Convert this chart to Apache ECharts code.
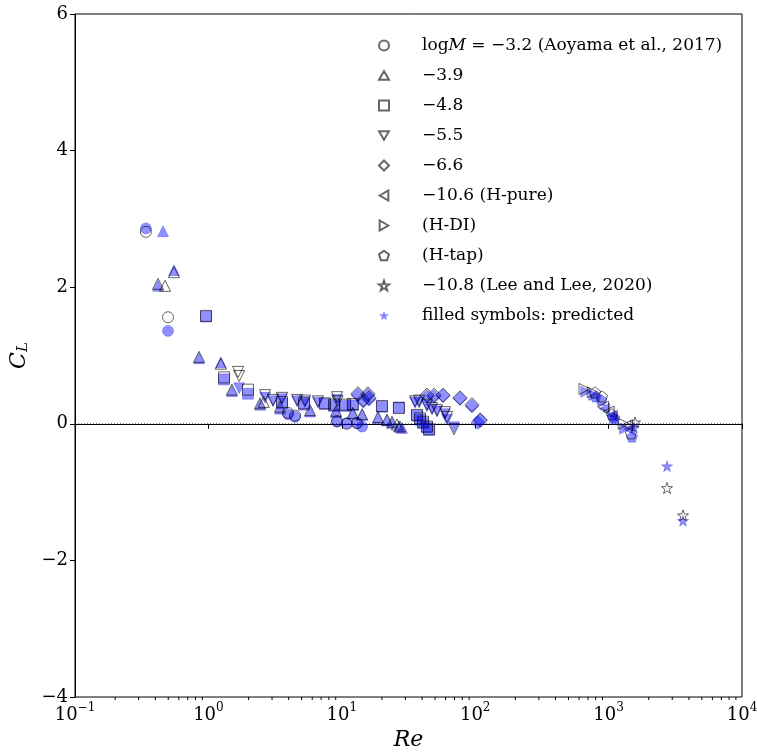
<!DOCTYPE html>
<html><head><meta charset="utf-8">
<script src="https://cdn.jsdelivr.net/npm/echarts@6/dist/echarts.min.js"></script>
<style>html,body{margin:0;padding:0;background:#fff}#c{width:757px;height:752px}</style>
</head><body><div id="c"></div>
<script>
// ---- tick values ----
const xMajorTicks = [0.1, 1, 10, 100, 1000, 10000];
const xMinorTicks = [0.2,0.3,0.4,0.5,0.6,0.7,0.8,0.9, 2,3,4,5,6,7,8,9, 20,30,40,50,60,70,80,90,
  200,300,400,500,600,700,800,900, 2000,3000,4000,5000,6000,7000,8000,9000];
const yTicks = [-4, -2, 0, 2, 4, 6];

// ---- legend labels ----
const seriesNames = ['m32','m39','m48','m55','m66','hpure','hdi','htap','lee','pred'];
const legendLabels = {
  m32: '{t|log}{i|M}{t| = −3.2 (Aoyama et al., 2017)}',
  m39: '{t|−3.9}',
  m48: '{t|−4.8}',
  m55: '{t|−5.5}',
  m66: '{t|−6.6}',
  hpure: '{t|−10.6 (H-pure)}',
  hdi: '{t|(H-DI)}',
  htap: '{t|(H-tap)}',
  lee: '{t|−10.8 (Lee and Lee, 2020)}',
  pred: '{t|filled symbols: predicted}'
};

// ---- data: [Re, C_L] ----
const m32Meas = [[0.340,2.81],[0.498,1.56],[3.95,0.16],[4.46,0.12],[9.21,0.04],[10.9,0.00],[13.0,0.01]];
const m32Pred = [[0.340,2.86],[0.498,1.36],[3.95,0.14],[4.46,0.10],[9.21,0.03],[10.9,0.01],[13.0,0.01],[14.2,-0.04]];

const m39Meas = [[0.419,2.05],[0.473,2.02],[0.552,2.22],[0.851,0.98],[1.24,0.88],[1.50,0.50],[2.44,0.30],[2.60,0.32],
  [3.44,0.25],[5.78,0.20],[9.06,0.19],[12.1,0.16],[14.2,0.14],[18.7,0.10],[21.8,0.06],[23.8,0.03],[25.9,-0.01],[27.3,-0.04]];
const m39Pred = [[0.457,2.82],[0.419,2.02],[0.552,2.25],[0.851,0.96],[1.24,0.90],[1.50,0.48],[2.44,0.28],[3.44,0.22],
  [5.78,0.18],[9.06,0.17],[12.1,0.15],[14.2,0.13],[18.7,0.08],[21.8,0.05],[23.8,0.01],[26.8,-0.04],[28.3,-0.06]];

const m48Meas = [[0.960,1.58],[1.31,0.68],[1.98,0.50],[3.56,0.32],[5.21,0.30],[7.49,0.30],[8.75,0.28],[10.6,0.28],
  [12.1,0.29],[20.0,0.26],[26.8,0.23],[36.6,0.13],[38.6,0.08],[40.6,0.03],[43.5,-0.04],[45.1,-0.08]];
const m48Pred = [[0.960,1.57],[1.31,0.65],[1.98,0.44],[3.56,0.30],[5.21,0.28],[7.49,0.29],[8.75,0.26],[10.6,0.26],
  [12.1,0.27],[20.0,0.25],[26.8,0.24],[36.6,0.12],[38.6,0.06],[40.6,0.01],[43.5,-0.05],[45.1,-0.09]];

const m55Meas = [[1.67,0.76],[1.70,0.70],[2.66,0.42],[3.05,0.35],[3.56,0.38],[4.62,0.35],[5.30,0.34],[6.63,0.33],
  [9.21,0.39],[9.30,0.33],[35.4,0.33],[38.0,0.34],[43.5,0.28],[47.5,0.23],[51.7,0.20],[59.4,0.17],[61.5,0.10],[69.4,-0.08]];
const m55Pred = [[1.70,0.52],[2.66,0.38],[3.05,0.33],[3.56,0.36],[4.62,0.33],[5.30,0.32],[6.63,0.31],[9.21,0.35],
  [35.4,0.31],[38.0,0.31],[43.5,0.26],[47.5,0.21],[51.7,0.18],[59.4,0.14],[61.5,0.06],[69.4,-0.05]];

const m66Meas = [[13.2,0.44],[15.7,0.44],[14.5,0.35],[16.0,0.38],[43.5,0.42],[49.1,0.42],[57.4,0.42],[76.9,0.38],[94.6,0.28],[109,0.05]];
const m66Pred = [[13.2,0.42],[15.7,0.42],[14.5,0.33],[16.0,0.36],[43.5,0.40],[49.1,0.40],[57.4,0.41],[76.9,0.37],[94.6,0.26],[109,0.06],[105,0.02]];

const hpureMeas = [[908,0.25],[1000,0.18],[1374,-0.02]];
const hpurePred = [[930,0.22],[1060,0.12],[1420,-0.08]];
const hdiMeas = [[660,0.51],[760,0.46],[1300,0.00]];
const hdiPred = [[680,0.47],[780,0.42],[1330,-0.07]];
const htapMeas = [[791,0.46],[893,0.40],[1060,0.14],[1470,-0.14]];
const htapPred = [[800,0.40],[880,0.35],[1078,0.10],[1110,0.08],[1497,-0.19]];
const leeMeas = [[1578,0.02],[2741,-0.94],[3612,-1.34]];
const leePred = [[1550,-0.05],[2741,-0.62],[3612,-1.42]];

// ---- symbols ----
const STAR = 'path://M0,-10L2.35,-3.24L9.51,-3.09L3.8,1.24L5.88,8.09L0,4L-5.88,8.09L-3.8,1.24L-9.51,-3.09L-2.35,-3.24Z';
const PENTA = 'path://M0,-10L9.51,-3.09L5.88,8.09L-5.88,8.09L-9.51,-3.09Z';
const TRI_UP = 'path://M0,-10L8.66,5L-8.66,5Z';
const TRI_DOWN = 'path://M0,10L8.66,-5L-8.66,-5Z';
const TRI_LEFT = 'path://M-10,0L5,-8.66L5,8.66Z';
const TRI_RIGHT = 'path://M10,0L-5,-8.66L-5,8.66Z';
const FONT = 'DejaVu Serif';

const measStyle = {color:'rgba(255,255,255,0)', borderColor:'rgba(0,0,0,0.75)', borderWidth:1};
const predStyle = {color:'rgba(0,0,255,0.55)', borderColor:'rgba(0,0,210,0.55)', borderWidth:0.6};

// name, symbol, size, legend icon, measured, predicted
const specs = [
  ['m32','circle',11,'circle',m32Meas,m32Pred],
  ['m39',TRI_UP,11,TRI_UP,m39Meas,m39Pred],
  ['m48','rect',11,'rect',m48Meas,m48Pred],
  ['m55',TRI_DOWN,11,TRI_DOWN,m55Meas,m55Pred],
  ['m66','diamond',14,'diamond',m66Meas,m66Pred],
  ['hpure',TRI_LEFT,11,TRI_LEFT,hpureMeas,hpurePred],
  ['hdi',TRI_RIGHT,11,TRI_RIGHT,hdiMeas,hdiPred],
  ['htap',PENTA,11,PENTA,htapMeas,htapPred],
  ['lee',STAR,11,STAR,leeMeas,leePred]
];

const series = [];
specs.forEach(s => {
  series.push({type:'scatter', name:s[0]+'_p', symbol:s[1], symbolSize:s[2],
    data:s[5], itemStyle:predStyle, z:2, silent:true});
});
specs.forEach(s => {
  series.push({type:'scatter', name:s[0], symbol:s[1], symbolSize:s[2],
    data:s[4], itemStyle:measStyle, z:3, silent:true});
});
series.push({type:'scatter', name:'pred', symbol:STAR, symbolSize:8, data:[],
  itemStyle:{color:'rgba(0,0,255,0.6)'}});
// zero reference line
series.push({type:'line', name:'zero', silent:true, symbol:'none', z:1,
  data:[[xMajorTicks[0],0],[xMajorTicks[xMajorTicks.length-1],0]],
  lineStyle:{type:[1,2], color:'#222', width:0.8}});
// minor x ticks drawn via axis scale
series.push({type:'custom', name:'minor', silent:true, clip:false, z:10,
  data: xMinorTicks.map(v => [v, yTicks[0]]),
  renderItem: (params, api) => {
    const p = api.coord([api.value(0), api.value(1)]);
    return {type:'line', shape:{x1:p[0], y1:p[1], x2:p[0], y2:p[1]+3}, style:{stroke:'#000', lineWidth:1}};
  }});

const legendData = seriesNames.map(n => {
  const sp = specs.find(s => s[0] === n);
  if (sp) return {name:n, icon:sp[3]};
  return {name:n, icon:STAR};
});

const chart = echarts.init(document.getElementById('c'), null, {renderer:'canvas'});
chart.setOption({
  animation:false,
  backgroundColor:'#fff',
  grid:{left:75, right:15, top:14, bottom:55, show:true, borderColor:'#000', borderWidth:1,
        containLabel:false, outerBoundsMode:'none'},
  xAxis:{type:'log', logBase:10, min:xMajorTicks[0], max:xMajorTicks[xMajorTicks.length-1],
    name:'{i|Re}', nameLocation:'middle', nameGap:30,
    nameTextStyle:{rich:{i:{fontFamily:FONT, fontStyle:'italic', fontSize:22, color:'#000'}}},
    axisLine:{show:true, lineStyle:{color:'#000', width:1}},
    axisTick:{show:true, length:5, lineStyle:{color:'#000'}},
    splitLine:{show:false},
    axisLabel:{margin:5, showMinLabel:true, showMaxLabel:true,
      formatter: v => { const e = Math.round(Math.log10(v)); return '{b|10}{s|' + (e < 0 ? '−' + (-e) : e) + '}'; },
      rich:{b:{fontFamily:FONT, fontSize:18, color:'#000', verticalAlign:'bottom', lineHeight:22},
            s:{fontFamily:FONT, fontSize:12, color:'#000', verticalAlign:'top', lineHeight:22}}}
  },
  yAxis:{type:'value', min:yTicks[0], max:yTicks[yTicks.length-1], interval:2,
    name:'{c|C}{l|L}', nameLocation:'middle', nameGap:38, nameRotate:90,
    nameTextStyle:{rich:{c:{fontFamily:FONT, fontStyle:'italic', fontSize:22, color:'#000', verticalAlign:'bottom', lineHeight:26},
                         l:{fontFamily:FONT, fontStyle:'italic', fontSize:15, color:'#000', verticalAlign:'bottom', lineHeight:20}}},
    axisLine:{show:true, lineStyle:{color:'#000', width:1}},
    axisTick:{show:true, length:5, lineStyle:{color:'#000'}},
    splitLine:{show:false},
    axisLabel:{margin:7, fontFamily:FONT, fontSize:18, color:'#000',
      formatter: v => v < 0 ? '−' + (-v) : '' + v}
  },
  legend:{show:true, orient:'vertical', left:373, top:32, itemWidth:10, itemHeight:10, itemGap:13,
    selectedMode:false, data:legendData,
    formatter: n => '{g|}' + legendLabels[n],
    textStyle:{rich:{g:{width:28, fontSize:17, lineHeight:20},
                     t:{fontFamily:FONT, fontSize:17, color:'#000', lineHeight:20},
                     i:{fontFamily:FONT, fontStyle:'italic', fontSize:17, color:'#000', lineHeight:20}}}
  },
  series: series
});
</script></body></html>
